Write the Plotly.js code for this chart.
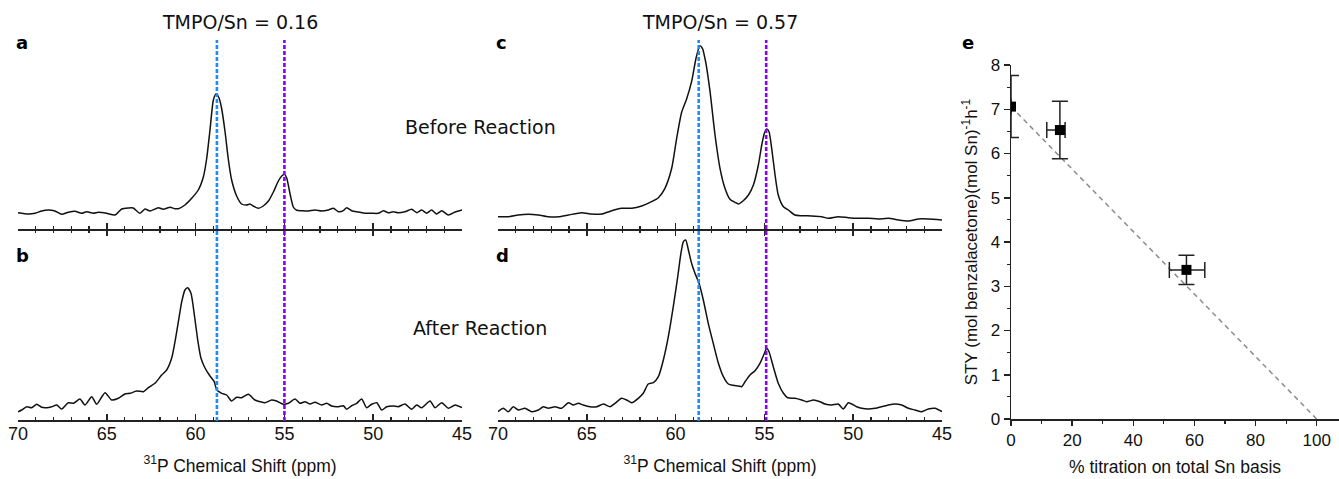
<!DOCTYPE html>
<html>
<head>
<meta charset="utf-8">
<script src="https://cdn.plot.ly/plotly-3.0.1.min.js"></script>
<style>html,body{margin:0;padding:0;background:#fff;}#plot{width:1339px;height:479px;}</style>
</head>
<body>
<div id="plot"></div>
<script>
// ---- Panel a: TMPO/Sn = 0.16, before reaction ----
const ppmA = [70.0, 69.42, 69.04, 68.67, 68.29, 67.92, 67.54, 67.17, 66.79, 66.42, 66.13, 65.76, 65.48, 65.01, 64.54, 64.16, 63.79, 63.51, 63.13, 62.85, 62.57, 62.10, 61.82, 61.44, 61.16, 60.97, 60.60, 60.22, 59.85, 59.56, 59.38, 59.19, 59.00, 58.85, 58.68, 58.53, 58.34, 58.16, 57.97, 57.69, 57.41, 57.12, 56.94, 56.75, 56.47, 56.19, 55.90, 55.62, 55.34, 55.15, 55.00, 54.87, 54.68, 54.50, 54.31, 54.03, 53.65, 53.28, 52.90, 52.53, 52.24, 51.96, 51.68, 51.49, 51.21, 50.84, 50.46, 50.09, 49.71, 49.43, 49.15, 48.87, 48.59, 48.21, 47.83, 47.55, 47.27, 46.99, 46.71, 46.43, 46.14, 45.77, 45.39, 45.0];
const intA = [16.3, 15.0, 15.7, 18.0, 19.0, 18.0, 14.7, 16.7, 17.7, 15.7, 17.3, 15.7, 16.7, 15.7, 14.0, 20.0, 21.0, 21.0, 15.7, 20.0, 18.0, 21.3, 19.7, 21.7, 20.3, 20.3, 24.0, 30.7, 39.0, 52.3, 70.0, 99.0, 129.0, 135.0, 131.0, 120.0, 97.0, 70.0, 49.0, 33.0, 25.0, 24.0, 25.0, 23.0, 20.7, 23.0, 28.0, 37.0, 48.0, 53.0, 54.7, 51.0, 35.0, 22.0, 18.7, 18.3, 18.0, 19.0, 18.0, 19.0, 20.7, 17.3, 18.3, 21.3, 18.3, 17.0, 15.7, 15.7, 15.7, 18.3, 16.3, 17.3, 16.3, 17.3, 19.7, 16.3, 19.0, 15.7, 19.0, 15.0, 18.3, 14.0, 17.0, 19.0];

// ---- Panel b: TMPO/Sn = 0.16, after reaction ----
const ppmB = [70.0, 69.79, 69.51, 69.23, 68.95, 68.67, 68.39, 68.10, 67.82, 67.54, 67.17, 66.88, 66.51, 66.23, 65.85, 65.57, 65.10, 64.73, 64.35, 63.98, 63.69, 63.32, 62.94, 62.66, 62.29, 61.91, 61.63, 61.35, 61.16, 60.97, 60.78, 60.60, 60.45, 60.26, 60.07, 59.88, 59.70, 59.47, 59.19, 58.95, 58.81, 58.53, 58.25, 57.97, 57.69, 57.41, 57.03, 56.66, 56.37, 56.09, 55.72, 55.44, 55.06, 54.78, 54.40, 54.12, 53.84, 53.56, 53.28, 52.90, 52.62, 52.34, 51.96, 51.68, 51.49, 51.21, 50.93, 50.65, 50.37, 50.09, 49.80, 49.52, 49.24, 48.87, 48.59, 48.21, 47.83, 47.55, 47.27, 46.80, 46.52, 46.14, 45.77, 45.39, 45.0];
const intB = [8.3, 10.0, 13.3, 12.3, 15.7, 12.7, 12.3, 13.3, 15.0, 11.0, 17.3, 16.7, 21.0, 15.0, 23.3, 15.7, 27.3, 20.0, 21.7, 26.0, 26.7, 29.0, 28.3, 32.3, 36.7, 45.0, 50.0, 61.7, 78.3, 98.3, 118.3, 130.0, 132.3, 126.7, 105.0, 80.0, 62.0, 52.0, 44.0, 38.3, 30.0, 26.7, 25.0, 19.0, 22.7, 22.3, 25.7, 20.0, 18.3, 17.3, 20.0, 19.0, 15.7, 16.7, 21.0, 16.7, 18.3, 16.0, 17.7, 15.0, 16.7, 14.0, 13.3, 14.3, 10.7, 14.3, 16.7, 21.0, 12.3, 15.7, 17.3, 10.0, 13.3, 14.0, 13.3, 16.0, 10.7, 15.0, 12.3, 19.0, 12.3, 17.3, 11.7, 15.0, 12.3];

// ---- Panel c: TMPO/Sn = 0.57, before reaction ----
const ppmC = [70.0, 69.42, 68.86, 68.29, 67.73, 67.17, 66.60, 66.04, 65.29, 64.73, 64.16, 63.60, 63.04, 62.47, 61.91, 61.35, 60.97, 60.60, 60.22, 59.94, 59.66, 59.38, 59.10, 58.85, 58.64, 58.49, 58.31, 58.06, 57.78, 57.50, 57.22, 56.94, 56.66, 56.47, 56.19, 55.90, 55.62, 55.34, 55.15, 55.00, 54.87, 54.74, 54.59, 54.40, 54.22, 53.93, 53.65, 53.28, 52.90, 52.34, 51.78, 51.40, 50.84, 50.27, 49.71, 49.15, 48.59, 48.02, 47.46, 46.90, 46.33, 45.77, 45.0];
const intC = [12.3, 12.3, 14.0, 14.7, 14.0, 12.3, 12.3, 14.0, 16.3, 15.0, 15.0, 18.3, 20.7, 20.7, 23.0, 27.3, 31.3, 40.7, 60.7, 90.7, 116.7, 130.0, 147.3, 170.7, 183.3, 180.7, 167.3, 137.3, 94.0, 60.7, 40.7, 29.7, 26.7, 25.0, 28.3, 34.0, 44.0, 64.0, 84.0, 95.7, 100.0, 97.3, 80.7, 54.0, 34.0, 22.3, 19.0, 14.0, 13.3, 13.0, 12.3, 10.7, 12.3, 11.3, 10.7, 10.7, 10.0, 10.7, 9.0, 8.0, 10.0, 10.0, 9.0];

// ---- Panel d: TMPO/Sn = 0.57, after reaction ----
const ppmD = [70.0, 69.70, 69.42, 69.14, 68.86, 68.48, 68.10, 67.73, 67.45, 67.17, 66.79, 66.42, 66.04, 65.76, 65.48, 65.20, 64.82, 64.44, 64.07, 63.69, 63.41, 63.04, 62.76, 62.47, 62.10, 61.82, 61.54, 61.25, 60.97, 60.69, 60.41, 60.13, 59.88, 59.70, 59.56, 59.43, 59.28, 59.10, 58.91, 58.68, 58.44, 58.16, 57.88, 57.59, 57.31, 57.03, 56.75, 56.47, 56.28, 56.09, 55.81, 55.53, 55.25, 55.00, 54.87, 54.74, 54.50, 54.22, 53.93, 53.69, 53.28, 52.90, 52.62, 52.24, 51.87, 51.59, 51.21, 50.84, 50.56, 50.27, 49.80, 49.52, 49.15, 48.77, 48.40, 48.02, 47.65, 47.27, 46.90, 46.52, 46.14, 45.77, 45.39, 45.0];
const intD = [8.3, 11.7, 8.3, 13.3, 10.0, 11.7, 8.3, 10.0, 13.3, 11.7, 13.3, 11.7, 17.3, 15.0, 16.7, 15.0, 13.3, 13.3, 16.0, 13.3, 16.7, 21.7, 20.0, 17.3, 21.7, 26.7, 36.0, 37.3, 43.3, 60.0, 83.3, 113.3, 143.3, 166.7, 178.3, 180.0, 170.0, 156.7, 146.7, 136.7, 120.0, 96.7, 76.7, 56.7, 43.3, 36.0, 34.7, 34.0, 33.3, 38.3, 45.0, 49.3, 56.7, 66.7, 71.7, 68.3, 53.3, 36.7, 26.7, 22.3, 21.7, 20.0, 18.3, 20.0, 18.3, 16.0, 15.0, 16.0, 11.0, 17.3, 13.3, 11.7, 11.0, 11.7, 13.3, 15.0, 16.0, 15.0, 11.7, 10.0, 8.3, 11.0, 11.7, 8.3];

// reference peak positions (dashed lines)
const refLeft = [58.8, 55.0];
const refRight = [58.7, 54.9];
const refColors = ['#1a8cff', '#8a00ff'];

// ---- Panel e: STY vs titration ----
const titration = [0, 16, 57.4];
const sty = [7.06, 6.53, 3.37];
const styErr = [0.7, 0.65, 0.33];
const titErrPlus = [0, 1.7, 6.0];
const titErrMinus = [0, 4.3, 5.6];
const fitX = [0, 100];
const fitY = [7.06, 0];

const H = 479, W = 1339;
const fy = p => 1 - p / H;
const fx = p => p / W;

const specLine = {color: '#111', width: 1.5, shape: 'spline', smoothing: 0.6};
const traces = [
  {x: ppmA, y: intA, xaxis: 'x', yaxis: 'y', mode: 'lines', line: specLine, hoverinfo: 'skip'},
  {x: ppmB, y: intB, xaxis: 'x2', yaxis: 'y2', mode: 'lines', line: specLine, hoverinfo: 'skip'},
  {x: ppmC, y: intC, xaxis: 'x3', yaxis: 'y3', mode: 'lines', line: specLine, hoverinfo: 'skip'},
  {x: ppmD, y: intD, xaxis: 'x4', yaxis: 'y4', mode: 'lines', line: specLine, hoverinfo: 'skip'},
  {x: fitX, y: fitY, xaxis: 'x5', yaxis: 'y5', mode: 'lines', line: {color: '#8c8c8c', width: 1.5, dash: '5px,4px'}},
  {x: titration, y: sty, xaxis: 'x5', yaxis: 'y5', mode: 'markers', cliponaxis: true,
   marker: {symbol: 'square', size: 10, color: '#000'},
   error_y: {type: 'data', array: styErr, visible: true, color: '#222', thickness: 1.5, width: 8},
   error_x: {type: 'data', symmetric: false, array: titErrPlus, arrayminus: titErrMinus, visible: true, color: '#222', thickness: 1.5, width: 8}}
];

const FAM = 'Liberation Sans, Arial, sans-serif';
const axFont = {family: FAM, size: 18, color: '#111'};
const specX = (anchor, labels, mirror) => ({
  anchor: anchor, range: [70, 45], autorange: false, showgrid: false, zeroline: false,
  showline: true, linecolor: '#222', linewidth: 1.5, mirror: mirror,
  ticks: 'inside', ticklen: 6, tickwidth: 1.5, tickcolor: '#222', dtick: 5, tick0: 0,
  minor: {ticks: 'inside', ticklen: 3, tickwidth: 1.2, tickcolor: '#222', dtick: 1, showgrid: false},
  showticklabels: labels, tickfont: axFont, ticklabelstandoff: -3
});
const xTitle = {text: '<sup>31</sup>P Chemical Shift (ppm)', font: {family: FAM, size: 17.5, color: '#111'}, standoff: 16};

const domL = [fx(18), fx(462)], domR = [fx(498), fx(942)];
const domTop = [fy(229), fy(40)], domBot = [fy(420), fy(230)];

const layout = {
  width: W, height: H, margin: {l: 0, r: 0, t: 0, b: 0}, showlegend: false,
  paper_bgcolor: '#fff', plot_bgcolor: 'rgba(0,0,0,0)',
  xaxis: Object.assign(specX('y', false, false), {domain: domL}),
  yaxis: {domain: domTop, range: [0, 189], visible: false},
  xaxis2: Object.assign(specX('y2', true, 'ticks'), {domain: domL, title: xTitle}),
  yaxis2: {domain: domBot, range: [0, 190], visible: false},
  xaxis3: Object.assign(specX('y3', false, false), {domain: domR}),
  yaxis3: {domain: domTop, range: [0, 189], visible: false},
  xaxis4: Object.assign(specX('y4', true, 'ticks'), {domain: domR, title: xTitle}),
  yaxis4: {domain: domBot, range: [0, 190], visible: false},
  xaxis5: {domain: [fx(1011), 1], anchor: 'y5', range: [0, 107.3], autorange: false,
    showgrid: false, zeroline: false, showline: true, linecolor: '#222', linewidth: 1.5,
    ticks: 'outside', ticklen: 5, tickwidth: 1.5, tickcolor: '#222', dtick: 20, tick0: 0,
    minor: {ticks: 'outside', ticklen: 3, tickwidth: 1.2, tickcolor: '#222', dtick: 10},
    tickfont: {family: FAM, size: 17, color: '#111'},
    title: {text: '% titration on total Sn basis', font: {family: FAM, size: 17.5, color: '#111'}, standoff: 12}},
  yaxis5: {domain: [fy(419), fy(65)], anchor: 'x5', range: [0, 8], autorange: false,
    showgrid: false, zeroline: false, showline: true, linecolor: '#222', linewidth: 1.5,
    ticks: 'outside', ticklen: 6, tickwidth: 1.5, tickcolor: '#222', dtick: 1, tick0: 0,
    minor: {ticks: 'outside', ticklen: 3, tickwidth: 1.2, tickcolor: '#222', dtick: 0.5},
    tickfont: {family: FAM, size: 17, color: '#111'},
    title: {text: 'STY (mol benzalacetone)(mol Sn)<sup>-1</sup>h<sup>-1</sup>', font: {family: FAM, size: 17, color: '#111'}, standoff: 8}},
  shapes: [],
  annotations: []
};

refLeft.forEach((v, i) => layout.shapes.push({type: 'line', xref: 'x2', yref: 'paper', x0: v, x1: v, y0: fy(421), y1: fy(40), line: {color: refColors[i], width: 2.6, dash: '4px,2px'}}));
refRight.forEach((v, i) => layout.shapes.push({type: 'line', xref: 'x4', yref: 'paper', x0: v, x1: v, y0: fy(421), y1: fy(40), line: {color: refColors[i], width: 2.6, dash: '4px,2px'}}));

const vFont = s => ({family: 'DejaVu Sans, Verdana, sans-serif', size: s, color: '#111'});
const bFont = {family: 'DejaVu Sans, Verdana, sans-serif', size: 18, color: '#000', weight: 'bold'};
const ann = (text, x, y, font, xanchor) => ({text: text, xref: 'paper', yref: 'paper', x: fx(x), y: fy(y), xanchor: xanchor || 'center', yanchor: 'middle', showarrow: false, font: font});
layout.annotations.push(
  ann('TMPO/Sn = 0.16', 240, 22, vFont(19)),
  ann('TMPO/Sn = 0.57', 720, 22, vFont(19)),
  ann('Before Reaction', 480, 127, vFont(19)),
  ann('After Reaction', 480, 328, vFont(19)),
  ann('<b>a</b>', 14, 43, bFont, 'left'),
  ann('<b>b</b>', 14, 256, bFont, 'left'),
  ann('<b>c</b>', 494, 43, bFont, 'left'),
  ann('<b>d</b>', 494, 256, bFont, 'left'),
  ann('<b>e</b>', 960, 43, bFont, 'left')
);

Plotly.newPlot('plot', traces, layout, {staticPlot: true, displayModeBar: false});
</script>
</body>
</html>
